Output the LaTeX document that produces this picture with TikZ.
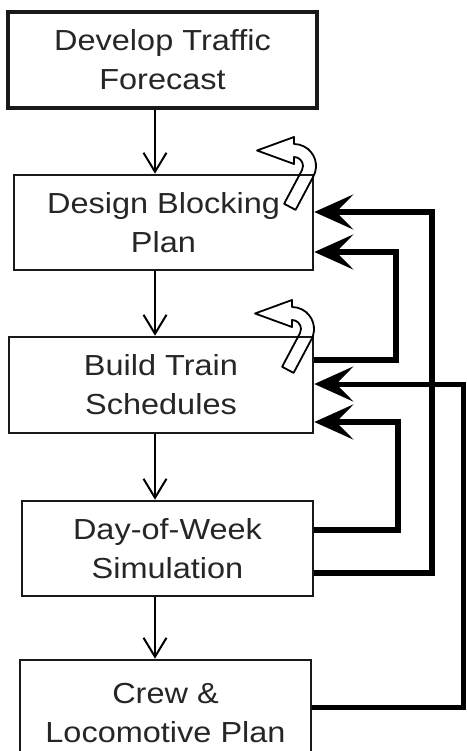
\documentclass[tikz,border=0pt]{standalone}
\usepackage{fontspec}
\setmainfont{Liberation Sans}[FakeStretch=1.12]
\usetikzlibrary{arrows.meta,calc}
\begin{document}
\begin{tikzpicture}[x=1pt,y=-1pt,
  box/.style={draw=black!90, line width=2.6pt, align=center, text=black!85,
    font=\fontsize{29}{39}\selectfont, inner sep=0pt},
  down/.style={line width=2pt, -{Straight Barb[length=19pt,width=23pt]}},
  fb/.style={line width=5.5pt, -{Stealth[length=39pt,width=35pt,inset=17pt]}},
  loopline/.style={line width=1.8pt, line join=round},
  uturn/.pic={
    \draw[loopline] ($(28:9)+(118:38)$) -- ($(28:22)+(118:38)$) -- (28:22)
      arc[start angle=28,end angle=-90,radius=22] -- (-90:29)
      -- ($(-90:15.5)+(180:37)$) -- (-90:2) -- (-90:9)
      arc[start angle=-90,end angle=28,radius=9] -- cycle;
  }]
\useasboundingbox (0,0) rectangle (466,751);
\clip (0,0) rectangle (466,751);
\fill[white] (0,0) rectangle (466,751);

\node[box, line width=3.3pt, minimum width=309pt, minimum height=96pt] (b1) at (162.5,60) {Develop Traffic\\Forecast};
\node[box, minimum width=299pt, minimum height=95pt] (b2) at (163.5,222.5) {Design Blocking\\Plan};
\node[box, minimum width=304pt, minimum height=96pt] (b3) at (161,385) {Build Train\\Schedules};
\node[box, minimum width=291pt, minimum height=95pt] (b4) at (167.5,548.5) {Day-of-Week\\Simulation};
\node[box, minimum width=291pt, minimum height=106pt] (b5) at (165.5,713) {Crew \&\\Locomotive Plan};

\coordinate (ax) at (155,0);
\draw[down] (b1.south -| ax) -- (b2.north -| ax);
\draw[down] (b2.south -| ax) -- (b3.north -| ax);
\draw[down] (b3.south -| ax) -- (b4.north -| ax);
\draw[down] (b4.south -| ax) -- (b5.north -| ax);

\coordinate (cA) at (432,0);
\coordinate (cB) at (398,0);
\coordinate (cC) at (396,0);
\coordinate (cD) at (463,0);
\coordinate (yA1) at (0,573);
\coordinate (yA2) at (0,212);
\coordinate (yB1) at (0,530);
\coordinate (yB2) at (0,422);
\coordinate (yC1) at (0,360);
\coordinate (yC2) at (0,252);
\coordinate (yD1) at (0,707);
\coordinate (yD2) at (0,384);

\draw[fb] (b4.east |- yA1) -| (cA |- yA2) -- (b2.east |- yA2);
\draw[fb] (b4.east |- yB1) -| (cB |- yB2) -- (b3.east |- yB2);
\draw[fb] (b3.east |- yC1) -| (cC |- yC2) -- (b2.east |- yC2);
\draw[fb, line width=5pt] (b5.east |- yD1) -| (cD |- yD2) -- (b3.east |- yD2);

\pic at (294,166) {uturn};
\pic at (292,329) {uturn};
\end{tikzpicture}
\end{document}
